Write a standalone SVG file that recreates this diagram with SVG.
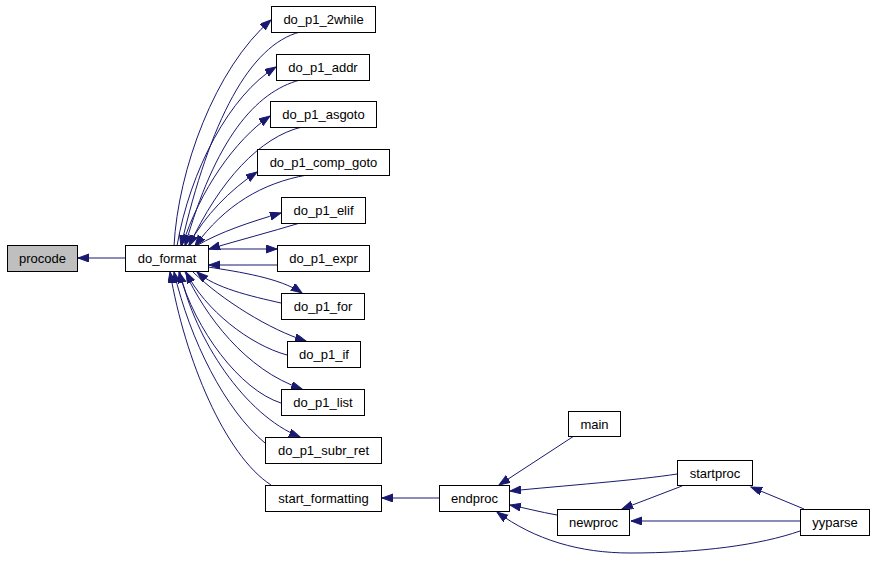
<svg xmlns="http://www.w3.org/2000/svg" width="874" height="571" viewBox="0 0 874 571">
<style>
.n rect{fill:#fff;stroke:#000;stroke-width:1}
.n text{font-family:"Liberation Sans",Arial,sans-serif;font-size:13px;fill:#000;text-anchor:middle}
.e path{fill:none;stroke:#191970;stroke-width:1;marker-end:url(#ah)}
</style>
<defs>
<marker id="ah" markerUnits="userSpaceOnUse" markerWidth="12" markerHeight="10" refX="11" refY="4" orient="auto">
<path d="M0,0 L11,4 L0,8 z" fill="#191970" stroke="#191970"/>
</marker>
</defs>
<rect width="874" height="571" fill="#fff"/>
<g class="e" id="edges">
<path d="M125,258 L78,258"/>
<path d="M174,246 C 178,170 215,68 271,20"/>
<path d="M300,32 C 250,45 210,120 181,246"/>
<path d="M177,246 C 190,170 230,95 276,67"/>
<path d="M300,80 C 255,92 215,140 185,246"/>
<path d="M182,246 C 200,190 235,140 270,116"/>
<path d="M302,127 C 260,137 220,180 189,246"/>
<path d="M188,246 C 205,215 230,190 257,172"/>
<path d="M307,175 C 262,183 225,205 195,246"/>
<path d="M196,246 C 220,232 250,222 281,213"/>
<path d="M300,223 C 270,232 240,240 209,249"/>
<path d="M208,249 L277,249"/>
<path d="M277,265 L209,265"/>
<path d="M208,267 C 240,272 280,278 302,293"/>
<path d="M281,303 C 250,296 215,288 197,272"/>
<path d="M193,272 C 222,300 270,330 306,341"/>
<path d="M287,355 C 250,345 205,310 186,272"/>
<path d="M185,272 C 205,315 245,370 302,389"/>
<path d="M281,403 C 240,390 195,330 179,272"/>
<path d="M180,272 C 195,340 245,415 300,437"/>
<path d="M265,443 C 225,410 190,340 174,272"/>
<path d="M271,485 C 225,455 185,360 170,272"/>
<path d="M439,498 L382,498"/>
<path d="M574,436 L499,485"/>
<path d="M677,474 C 640,480 560,486 510,491"/>
<path d="M557,515 C 540,512 525,508 510,505"/>
<path d="M800,531 C 760,545 700,553 630,553 C 580,553 535,540 497,512"/>
<path d="M682,486 L622,509"/>
<path d="M800,521 L631,521"/>
<path d="M804,509 L751,487"/>
</g>
<g class="n" id="procode"><rect x="7.5" y="245.5" width="70" height="26" style="fill:#bfbfbf"/><text x="42.5" y="263">procode</text></g>
<g class="n" id="do_format"><rect x="125.5" y="245.5" width="83" height="26"/><text x="167" y="263">do_format</text></g>
<g class="n" id="do_p1_2while"><rect x="271.5" y="6.5" width="104" height="26"/><text x="323.5" y="24">do_p1_2while</text></g>
<g class="n" id="do_p1_addr"><rect x="276.5" y="54.5" width="93" height="26"/><text x="323" y="72">do_p1_addr</text></g>
<g class="n" id="do_p1_asgoto"><rect x="270.5" y="101.5" width="106" height="26"/><text x="323.5" y="119">do_p1_asgoto</text></g>
<g class="n" id="do_p1_comp_goto"><rect x="257.5" y="149.5" width="132" height="26"/><text x="323.5" y="167">do_p1_comp_goto</text></g>
<g class="n" id="do_p1_elif"><rect x="281.5" y="197.5" width="84" height="26"/><text x="323.5" y="215">do_p1_elif</text></g>
<g class="n" id="do_p1_expr"><rect x="277.5" y="245.5" width="92" height="26"/><text x="323.5" y="263">do_p1_expr</text></g>
<g class="n" id="do_p1_for"><rect x="281.5" y="293.5" width="83" height="26"/><text x="323" y="311">do_p1_for</text></g>
<g class="n" id="do_p1_if"><rect x="287.5" y="341.5" width="73" height="26"/><text x="324" y="359">do_p1_if</text></g>
<g class="n" id="do_p1_list"><rect x="281.5" y="389.5" width="83" height="26"/><text x="323" y="407">do_p1_list</text></g>
<g class="n" id="do_p1_subr_ret"><rect x="265.5" y="437.5" width="116" height="26"/><text x="323.5" y="455">do_p1_subr_ret</text></g>
<g class="n" id="start_formatting"><rect x="265.5" y="485.5" width="116" height="26"/><text x="323.5" y="503">start_formatting</text></g>
<g class="n" id="endproc"><rect x="439.5" y="485.5" width="70" height="26"/><text x="474.5" y="503">endproc</text></g>
<g class="n" id="main"><rect x="568.5" y="411.5" width="52" height="25"/><text x="594.5" y="428.5">main</text></g>
<g class="n" id="startproc"><rect x="677.5" y="460.5" width="75" height="25"/><text x="715" y="477.5">startproc</text></g>
<g class="n" id="newproc"><rect x="557.5" y="509.5" width="72" height="26"/><text x="593.5" y="527">newproc</text></g>
<g class="n" id="yyparse"><rect x="800.5" y="509.5" width="69" height="26"/><text x="835" y="527">yyparse</text></g>
</svg>
